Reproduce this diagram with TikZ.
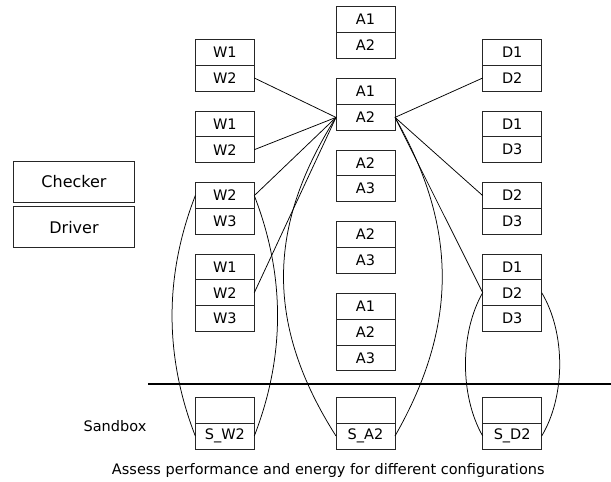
\documentclass[tikz,border=0pt]{standalone}
\usepackage{fontspec}
\setmainfont{DejaVu Sans}
\usepackage{tikz}
\usetikzlibrary{positioning}

\begin{document}
\begin{tikzpicture}[
    x=1pt, y=-1pt,
    cell/.style={rectangle, draw=black!85, line width=0.8pt, minimum width=59pt, minimum height=25.8pt, inner sep=0pt, outer sep=0pt, font=\fontsize{14.5}{17}\selectfont},
    role/.style={rectangle, draw=black!85, line width=0.8pt, minimum width=121pt, minimum height=41pt, inner sep=0pt, outer sep=0pt, font=\fontsize{16}{19}\selectfont},
    link/.style={line width=0.75pt},
    sepline/.style={line width=1.2pt},
    lbl/.style={font=\fontsize{14.5}{17}\selectfont}
]
\useasboundingbox (0,0) rectangle (611,482);

% Roles (left)
\node[role] (chk) at (74,181.8) {Checker};
\node[role] (drv) at (74,227.3) {Driver};

% W column
\node[cell] (wa1) at (224.8,52.2) {W1};
\node[cell, below=0pt of wa1] (wa2) {W2};
\node[cell] (wb1) at (224.8,123.9) {W1};
\node[cell, below=0pt of wb1] (wb2) {W2};
\node[cell] (wc1) at (224.8,195.6) {W2};
\node[cell, below=0pt of wc1] (wc2) {W3};
\node[cell] (wd1) at (224.8,266.9) {W1};
\node[cell, below=0pt of wd1] (wd2) {W2};
\node[cell, below=0pt of wd2] (wd3) {W3};

% A column
\node[cell] (aa1) at (365.5,19.6) {A1};
\node[cell, below=0pt of aa1] (aa2) {A2};
\node[cell] (ab1) at (365.5,91.6) {A1};
\node[cell, below=0pt of ab1] (ab2) {A2};
\node[cell] (ac1) at (365.5,162.9) {A2};
\node[cell, below=0pt of ac1] (ac2) {A3};
\node[cell] (ad1) at (365.5,234.6) {A2};
\node[cell, below=0pt of ad1] (ad2) {A3};
\node[cell] (ae1) at (365.5,306.2) {A1};
\node[cell, below=0pt of ae1] (ae2) {A2};
\node[cell, below=0pt of ae2] (ae3) {A3};

% D column
\node[cell] (da1) at (512.2,52.2) {D1};
\node[cell, below=0pt of da1] (da2) {D2};
\node[cell] (db1) at (512.2,123.9) {D1};
\node[cell, below=0pt of db1] (db2) {D3};
\node[cell] (dc1) at (512.2,195.6) {D2};
\node[cell, below=0pt of dc1] (dc2) {D3};
\node[cell] (dd1) at (512.2,266.9) {D1};
\node[cell, below=0pt of dd1] (dd2) {D2};
\node[cell, below=0pt of dd2] (dd3) {D3};

% Sandbox row
\coordinate (sepl) at (148,384);
\coordinate (sepr) at (611,384);
\draw[sepline] (sepl) -- (sepr);
\node[lbl] (sbx) at (115,426) {Sandbox};
\node[cell] (sw1) at (224.8,410.2) {};
\node[cell, below=0pt of sw1] (sw2) {S\_W2};
\node[cell] (sa1) at (365.5,410.2) {};
\node[cell, below=0pt of sa1] (sa2) {S\_A2};
\node[cell] (sd1) at (512.2,410.2) {};
\node[cell, below=0pt of sd1] (sd2) {S\_D2};
\node[lbl] (cap) at (328.3,470.7) {Assess performance and energy for different configurations};

% Links to the chosen A2
\draw[link] (wa2.east) -- (ab2.west);
\draw[link] (wb2.east) -- (ab2.west);
\draw[link] (wc1.east) -- (ab2.west);
\draw[link] (wd2.east) -- (ab2.west);
\draw[link] (ab2.east) -- (da2.west);
\draw[link] (ab2.east) -- (dc1.west);
\draw[link] (ab2.east) -- (dd2.west);

% Links down into the sandbox
\draw[link] (wc1.west) .. controls +(-31,80) and +(-31,-80) .. (sw2.west);
\draw[link] (wc1.east) .. controls +(31,80) and +(31,-80) .. (sw2.east);
\draw[link] (ab2.west) .. controls +(-70,110) and +(-70,-110) .. (sa2.west);
\draw[link] (ab2.east) .. controls +(63,110) and +(63,-110) .. (sa2.east);
\draw[link] (dd2.west) .. controls +(-23,40) and +(-23,-40) .. (sd2.west);
\draw[link] (dd2.east) .. controls +(24,40) and +(24,-40) .. (sd2.east);

\end{tikzpicture}
\end{document}
